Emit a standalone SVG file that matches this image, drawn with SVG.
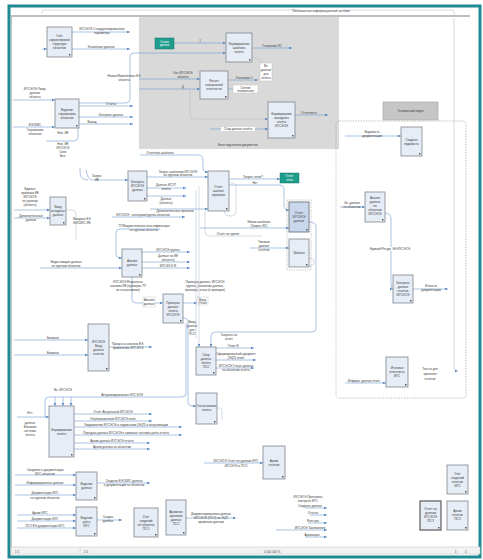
<svg xmlns="http://www.w3.org/2000/svg" width="483" height="560" viewBox="0 0 483 560">
<defs>
<marker id="ar" markerWidth="4" markerHeight="4" refX="3.5" refY="2" orient="auto" markerUnits="userSpaceOnUse"><path d="M0,0.5 L3.5,2 L0,3.5 Z" fill="#5b88c4"/></marker>
<style>
.n{fill:#e7edf6;stroke:#7f858c;stroke-width:0.8}
.nd{fill:#c9d8ec;stroke:#6f757c;stroke-width:0.9}
.tl{fill:#1e9c8c;stroke:#177a6e;stroke-width:0.5}
.t{font-family:"Liberation Sans",Arial,sans-serif;font-size:3px;fill:#3a3a3a;text-anchor:middle}
.tw{font-family:"Liberation Sans",Arial,sans-serif;font-size:2.8px;fill:#ffffff;text-anchor:middle}
.c{fill:none;stroke:#6e9ad0;stroke-width:0.6}
.cg{fill:none;stroke:#a9b7c8;stroke-width:0.5}
.k{fill:#555}
</style>
</defs>
<rect x="0" y="0" width="483" height="560" fill="#ffffff"/>
<!-- frame -->
<rect x="9" y="6" width="471" height="551" fill="#ffffff" stroke="#1f8a91" stroke-width="3"/>
<line x1="11" y1="16" x2="470" y2="16" stroke="#a8a8a8" stroke-width="1.5"/>
<line x1="11.5" y1="16" x2="11.5" y2="547" stroke="#b0b0b0" stroke-width="0.8"/>
<path class="cg" d="M42,14 V12 Q42,10 44,10 H452 Q454,10 454,12 V15"/>
<rect x="300" y="8.5" width="42" height="4" fill="#ffffff"/>
<text class="t" x="321" y="11.5">Пользователи информационной системы</text>
<!-- gray region -->
<rect x="139" y="17" width="200" height="132" fill="#d9d9d9"/>
<text class="t" x="238" y="145.5">Блок подготовки документов</text>
<!-- right dashed region -->
<rect x="336" y="121" width="130" height="277" rx="3" fill="none" stroke="#9a9a9a" stroke-width="0.6" stroke-dasharray="1.5,1.2"/>
<rect x="383" y="102" width="55" height="18" fill="#c6c6c6" stroke="#a0a0a0" stroke-width="0.6"/>
<text class="t" x="410.5" y="112">Технический отдел</text>
<!-- status bar -->
<rect x="11" y="547" width="469" height="7" fill="#f2f2f2" stroke="#c8c8c8" stroke-width="0.6"/>
<line x1="80" y1="548" x2="80" y2="554" stroke="#c8c8c8" stroke-width="0.5"/>
<text class="t" x="17" y="552.5">1:1</text>
<text class="t" x="86" y="552.5">1:1</text>
<text class="t" x="272" y="552.5">1:100 100 %</text>
<text class="t" x="456" y="552.5">1:</text>
<text class="t" x="466" y="552.5">1:</text>

<g id="connectors">
<!-- A -->
<path class="c" d="M72,32 H130" marker-end="url(#ar)"/>
<text class="t" x="102" y="30">ИУСЭОЭ Стандартизированные</text><text class="t" x="102" y="34">параметры</text>
<path class="c" d="M72,49 H130" marker-end="url(#ar)"/>
<text class="t" x="101" y="48">Эталонные данные</text>
<path class="c" d="M42,49 H47" marker-end="url(#ar)"/>
<!-- B -->
<path class="c" d="M13,100 H55" marker-end="url(#ar)"/>
<text class="t" x="35" y="90">ИУСЭОЭ Ожид.</text><text class="t" x="35" y="94">данные</text><text class="t" x="35" y="98">объекта</text>
<path class="c" d="M13,127 H55" marker-end="url(#ar)"/>
<text class="t" x="35" y="126">ЕЭСКИС</text><text class="t" x="35" y="131">Справочник</text><text class="t" x="35" y="135">объектов</text>
<path class="c" d="M79,106 H133" marker-end="url(#ar)"/>
<text class="t" x="111" y="105">Отчёты</text>
<path class="c" d="M79,117 H133" marker-end="url(#ar)"/>
<text class="t" x="111" y="116">Контроль данных</text>
<path class="c" d="M79,124 H133" marker-end="url(#ar)"/>
<text class="t" x="92" y="123">Вывод</text>
<path class="c" d="M79,103 H126 Q130,103 130,99 V57 Q130,53 134,53 H226" marker-end="url(#ar)"/>
<text class="t" x="124" y="77">Новые/Изменённые ЕЭ</text><text class="t" x="124" y="81">объекта</text>
<path class="c" d="M78,128 V137 Q78,141 74,141 H46"/>
<text class="t" x="63" y="134">Нов. ИЕ</text>
<text class="t" x="63" y="145">Нов. ИЕ</text><text class="t" x="63" y="149">ИУСЭОЭ</text><text class="t" x="63" y="153">Связ.</text><text class="t" x="63" y="157">Без.</text>
<!-- gray region -->
<path class="c" d="M174,43 H226" marker-end="url(#ar)"/>
<text class="t" x="200" y="42">1</text>
<path class="c" d="M252,48 H292" marker-end="url(#ar)"/>
<text class="t" x="272" y="47">Уточнение ИС</text>
<path class="cg" d="M252,57 Q258,57 262,63"/>
<rect x="260" y="63" width="12" height="18" fill="#ffffff" stroke="#bbbbbb" stroke-width="0.4"/>
<text class="t" x="266" y="67">Вз.</text><text class="t" x="266" y="71">данные</text><text class="t" x="266" y="75">для</text><text class="t" x="266" y="79">отчёта</text>
<path class="c" d="M139,79 H200" marker-end="url(#ar)"/>
<text class="t" x="183" y="74">Кат. ИУСЭОЭ</text><text class="t" x="183" y="78">объекта</text>
<path class="c" d="M139,89 H200" marker-end="url(#ar)"/>
<text class="t" x="183" y="88">Д</text>
<path class="c" d="M228,80 H258" marker-end="url(#ar)"/>
<text class="t" x="244" y="79">Уточнение 1</text>
<path class="c" d="M228,89 H258" marker-end="url(#ar)"/>
<rect x="233" y="85" width="25" height="8" fill="#ffffff" stroke="#bbbbbb" stroke-width="0.4"/>
<text class="t" x="245.5" y="88.5">Снятие</text><text class="t" x="245.5" y="92">технических</text>
<path class="cg" d="M190,89 V115 Q190,119 194,119 H268" marker-end="url(#ar)"/>
<path class="c" d="M210,129 H268" marker-end="url(#ar)"/>
<rect x="221" y="127" width="34" height="4" fill="#ffffff"/>
<text class="t" x="238" y="130">Сбор данных отчёта</text>
<path class="c" d="M295,115 H328" marker-end="url(#ar)"/>
<text class="t" x="309" y="114">Отчётность</text>
<!-- section 2 -->
<path class="c" d="M140,155 H198 Q203,155 203,160 V168 Q203,172 208,172" marker-end="url(#ar)"/>
<text class="t" x="160" y="154">Отчётные шаблоны</text>
<path class="c" d="M86,170 Q88,180 92,180 H128" marker-end="url(#ar)"/>
<text class="t" x="97" y="177">Запрос</text><text class="t" x="97" y="181">ИЕ</text>
<path class="c" d="M147,177 H208" marker-end="url(#ar)"/>
<text class="t" x="178" y="173">Запрос шаблонов ИУСЭОЭ</text><text class="t" x="178" y="176">по группам объектов</text>
<path class="c" d="M147,188 H186" marker-end="url(#ar)"/>
<text class="t" x="166" y="186">Данные ИСУП</text><text class="t" x="166" y="190">отчёта</text>
<path class="c" d="M147,196 H186" marker-end="url(#ar)"/>
<text class="t" x="166" y="199.5">Данные</text><text class="t" x="166" y="203.5">(объекта)</text>
<path class="c" d="M150,209 H208" marker-end="url(#ar)"/>
<text class="t" x="175" y="212">Дополнительные признаки</text>
<path class="c" d="M229,179 H280" marker-end="url(#ar)"/>
<text class="t" x="253" y="178">Запрос готов?</text>
<path class="c" d="M229,185 H279 Q284,185 284,190 V206 Q284,210 289,210" marker-end="url(#ar)"/>
<text class="t" x="255" y="184">Нет</text>
<path class="cg" d="M224,211 Q224,216 231,216 Q236,216 236,211 V186 Q236,183 231,183"/>
<!-- F -->
<path class="c" d="M14,210 H50" marker-end="url(#ar)"/>
<text class="t" x="30" y="190">Единые</text><text class="t" x="30" y="194">признаки ИЕ</text><text class="t" x="30" y="198">ИУСЭОЭ</text><text class="t" x="30" y="202">по группам</text><text class="t" x="30" y="206">(объекта)</text>
<path class="c" d="M14,218 H50" marker-end="url(#ar)"/>
<text class="t" x="31" y="217">Дополнительные</text><text class="t" x="31" y="221">данные</text>
<path class="cg" d="M66,210 H72 Q76,210 76,214 V240"/>
<text class="t" x="82" y="220">Входные ЕЭ</text><text class="t" x="82" y="224">ЕЭСКИС ИЕ</text>
<path class="c" d="M88,180 Q80,180 80,172 V168"/>
<!-- I, J -->
<path class="c" d="M112,217 H185" marker-end="url(#ar)"/>
<text class="t" x="143" y="216">ИУСЭОЭ - категории/группы объектов</text>
<path class="c" d="M200,228 H289" marker-end="url(#ar)"/>
<text class="t" x="144" y="227">ТП Ведомственные классификаторы</text><text class="t" x="144" y="231">по группам объектов</text>
<path class="c" d="M160,229 H120 Q116,229 116,233 V254 Q116,258 120,258 H122" marker-end="url(#ar)"/>
<text class="t" x="259" y="223">Новые шаблоны</text><text class="t" x="259" y="227">(Запрос ИС)</text>
<path class="c" d="M250,248 H289" marker-end="url(#ar)"/>
<text class="t" x="264" y="243">Типовые</text><text class="t" x="264" y="247">данные</text><text class="t" x="264" y="251">отчётов</text>
<path class="cg" d="M205,211 V232 Q205,236 209,236 H262"/>
<text class="t" x="228" y="235">Отчёт по группе</text>
<path class="c" d="M309,222 Q316,222 316,227 V328 Q316,332 312,332 H215 Q211,332 211,336 V347" marker-end="url(#ar)"/>
<text class="t" x="229" y="336">Запросы на</text><text class="t" x="229" y="340">отчёт</text>
<path class="cg" d="M309,258 Q314,258 314,262 Q314,266 309,266"/>
<!-- K -->
<path class="c" d="M40,268 H122" marker-end="url(#ar)"/>
<text class="t" x="66" y="263">Недостающие данные</text><text class="t" x="66" y="267">по группам объектов</text>
<path class="c" d="M142,252 H190" marker-end="url(#ar)"/>
<text class="t" x="168" y="251">ИУСЭОЭ группы</text>
<path class="c" d="M142,262 H190" marker-end="url(#ar)"/>
<text class="t" x="168" y="257">Данные по ИЕ</text><text class="t" x="168" y="261">(объекта)</text>
<path class="c" d="M142,268 H190" marker-end="url(#ar)"/>
<text class="t" x="168" y="267">ИУСЭОЭ Ж</text>
<path class="c" d="M132,277 V299 Q132,303 136,303 H163" marker-end="url(#ar)"/>
<text class="t" x="128" y="283">ИУСЭОЭ Результаты</text><text class="t" x="128" y="287">анализа ИЕ (проверка ТП</text><text class="t" x="128" y="291">на согласование)</text>
<rect x="143" y="297" width="12" height="10" fill="#ffffff" stroke="#bbbbbb" stroke-width="0.4"/>
<text class="t" x="149" y="301">Анализ</text><text class="t" x="149" y="305">данных</text>
<!-- L, M, N -->
<path class="c" d="M183,303 H197" marker-end="url(#ar)"/>
<rect x="197" y="297" width="11" height="8" fill="#ffffff" stroke="#bbbbbb" stroke-width="0.4"/>
<text class="t" x="202.5" y="300.5">Ввод</text><text class="t" x="202.5" y="304">Отказ</text>
<text class="t" x="205" y="283">Проверку данных, ИУСЭОЭ</text><text class="t" x="205" y="287">группы, уточнение данных,</text><text class="t" x="205" y="291">проверка, отказ (в проверке)</text>
<path class="cg" d="M199,186 V347" marker-end="url(#ar)"/>
<path class="cg" d="M196,190 V338"/>
<text class="t" x="192" y="323">Ввод</text><text class="t" x="192" y="327">данных</text><text class="t" x="192" y="331">для</text><text class="t" x="192" y="335">ПСО</text>
<path class="c" d="M183,318 Q188,318 188,322 V402 Q188,406 192,406 H196" marker-end="url(#ar)"/>
<path class="c" d="M216,348 H254" marker-end="url(#ar)"/>
<text class="t" x="233" y="347">Ответ В</text>
<path class="c" d="M216,360 H256" marker-end="url(#ar)"/>
<text class="t" x="236" y="355">Сформированный документ</text><text class="t" x="236" y="359">(ЭЦП) ответ</text>
<path class="c" d="M216,368 H254" marker-end="url(#ar)"/>
<text class="t" x="236" y="367">ИУСЭОЭ Статус данных</text><text class="t" x="236" y="371">по объектам отчёта</text>
<path class="cg" d="M217,408 H220 Q222,408 222,412 V420"/>
<!-- O -->
<path class="c" d="M14,340 H88" marker-end="url(#ar)"/>
<text class="t" x="53" y="339">Базовые</text>
<path class="c" d="M14,355 H88" marker-end="url(#ar)"/>
<text class="t" x="53" y="354">Базовые</text>
<path class="c" d="M109,347 H152" marker-end="url(#ar)"/>
<text class="t" x="128" y="345">Процессы анализа ЕЭ,</text><text class="t" x="128" y="349">применение ИУСЭОЭ</text>
<!-- P -->
<path class="c" d="M186,323 V393 Q186,397 182,397 H48 Q45,397 45,401 V417 H49" marker-end="url(#ar)"/>
<text class="t" x="63" y="391">Вх. ИУСЭОЭ</text>
<text class="t" x="122" y="396">Актуализированные ИУСЭОЭ</text>
<path class="c" d="M55,397 V406" marker-end="url(#ar)"/>
<path class="c" d="M63,397 V406" marker-end="url(#ar)"/>
<path class="c" d="M71,397 V406" marker-end="url(#ar)"/>
<path class="c" d="M17,417 H45"/>
<text class="t" x="30" y="414">Ист.</text><text class="t" x="30" y="424">данных</text><text class="t" x="30" y="428">Внешние</text><text class="t" x="30" y="432">системы</text><text class="t" x="30" y="436">отчёта</text>
<path class="c" d="M74,414 H152" marker-end="url(#ar)"/>
<text class="t" x="113" y="413">Отчёт Актуальный ИУСЭОЭ</text>
<path class="c" d="M74,421 H152" marker-end="url(#ar)"/>
<text class="t" x="113" y="420">Опубликованный ИУСЭОЭ отчёт</text>
<path class="c" d="M74,427 H182" marker-end="url(#ar)"/>
<text class="t" x="126" y="426">Уведомление ИУСЭОЭ о подписании (ЭЦП) и актуализации</text>
<path class="c" d="M74,435 H182" marker-end="url(#ar)"/>
<text class="t" x="126" y="434">Передача данных ИУСЭОЭ в смежные системы учёта отчёта</text>
<path class="c" d="M74,443 H150" marker-end="url(#ar)"/>
<text class="t" x="112" y="442">Архив данных ИУСЭОЭ отчёта</text>
<path class="c" d="M74,449 H150" marker-end="url(#ar)"/>
<text class="t" x="112" y="448">Архив данных по объектам</text>
<!-- Q, R -->
<path class="c" d="M15,475 H76" marker-end="url(#ar)"/>
<text class="t" x="45" y="471">Сведения о документации</text><text class="t" x="45" y="474.5">ИУС объектов</text>
<path class="c" d="M15,485 H76" marker-end="url(#ar)"/>
<text class="t" x="45" y="484">Информационные данные</text>
<path class="c" d="M15,495 H76" marker-end="url(#ar)"/>
<text class="t" x="45" y="494">Документация ИУС</text><text class="t" x="45" y="499">по группам объектов</text>
<path class="c" d="M97,483 H150" marker-end="url(#ar)"/>
<text class="t" x="124" y="482">Сводные ЕЭСКИС данные</text><text class="t" x="124" y="486">о документации по объектам</text>
<path class="c" d="M17,515 H76" marker-end="url(#ar)"/>
<text class="t" x="40" y="514">Архив ИУС</text>
<path class="c" d="M17,521 H76" marker-end="url(#ar)"/>
<text class="t" x="45" y="520">Документация ИУС</text>
<path class="c" d="M17,528 H76" marker-end="url(#ar)"/>
<text class="t" x="45" y="527">ПСО ЕЭ документация ИУС</text>
<path class="c" d="M97,520 H122" marker-end="url(#ar)"/>
<text class="t" x="108" y="518">Сводка</text><text class="t" x="108" y="522">данных</text>
<!-- T, U -->
<path class="c" d="M186,518 H236" marker-end="url(#ar)"/>
<text class="t" x="211" y="515">Документированные данные</text><text class="t" x="211" y="519">ИУСЭОЭ (ПСО) по ЭЦП</text><text class="t" x="211" y="523">архивным данным</text>
<path class="c" d="M204,463 H263" marker-end="url(#ar)"/>
<text class="t" x="236" y="462">ИУСЭОЭ Отчёт по данным ИУС</text><text class="t" x="236" y="467">ИУСЭОЭ в ПСО</text>
<!-- right bottom list -->
<text class="t" x="308" y="498">ИУСЭОЭ Протоколы</text><text class="t" x="308" y="502">контроля ИУС</text>
<path class="c" d="M305,508 H327" marker-end="url(#ar)"/>
<text class="t" x="310" y="507">Сводные данные</text>
<path class="c" d="M310,515 H327" marker-end="url(#ar)"/>
<text class="t" x="313" y="514">Отчёты</text>
<path class="c" d="M308,523 H327" marker-end="url(#ar)"/>
<text class="t" x="313" y="522">Реестры</text>
<path class="c" d="M276,530 H327" marker-end="url(#ar)"/>
<text class="t" x="310" y="529">ИУСЭОЭ Заключения</text>
<path class="c" d="M305,537 H327" marker-end="url(#ar)"/>
<text class="t" x="312" y="536">Архивация</text>
<!-- right region -->
<path class="c" d="M345,136 H401" marker-end="url(#ar)"/>
<text class="t" x="372" y="133">Ведомость</text><text class="t" x="372" y="137">документации</text>
<path class="c" d="M340,207 H365" marker-end="url(#ar)"/>
<text class="t" x="352" y="204">Эл. данные</text><text class="t" x="352" y="208">по объектам</text>
<path class="c" d="M385,213 Q391,213 391,219 V285 Q391,289 393,289" marker-end="url(#ar)"/>
<rect x="365" y="247" width="50" height="4" fill="#ffffff"/>
<text class="t" x="390" y="250">Единый Ресурс ЭЭ ИУСЭОЭ</text>
<path class="c" d="M413,289 H448" marker-end="url(#ar)"/>
<text class="t" x="431" y="287">Итоги по</text><text class="t" x="431" y="291">документации</text>
<path class="c" d="M345,383 H386" marker-end="url(#ar)"/>
<text class="t" x="364" y="382">Информ. данные отчёт</text>
<text class="t" x="430" y="370">Тексты для</text><text class="t" x="430" y="375">хранения</text><text class="t" x="430" y="380">отчётов</text>
<path class="cg" d="M454,18 V367 Q454,371 458,371" marker-end="url(#ar)"/>
</g>

<g id="nA"><rect class="n" x="47" y="27" width="25" height="30"/><text class="t" x="59.5" y="37">Учёт</text><text class="t" x="59.5" y="41">корректировки</text><text class="t" x="59.5" y="45">структуры</text><text class="t" x="59.5" y="49">объектов</text><rect class="k" x="69" y="54" width="1.5" height="1.5"/></g>
<g id="nB"><rect class="n" x="55" y="99" width="24" height="29"/><text class="t" x="67" y="110.5">Ведение</text><text class="t" x="67" y="114.5">справочника</text><text class="t" x="67" y="118.5">объектов</text><rect class="k" x="76" y="125" width="1.5" height="1.5"/></g>
<g id="nTeal1"><rect class="tl" x="155" y="38" width="19" height="11"/><text class="tw" x="164.5" y="42.5">Схема</text><text class="tw" x="164.5" y="46">данных</text></g>
<g id="nC"><rect class="n" x="226" y="33" width="26" height="29"/><text class="t" x="239" y="44.5">Формирование</text><text class="t" x="239" y="48.5">шаблона</text><text class="t" x="239" y="52.5">отчёта</text><rect class="k" x="249" y="59" width="1.5" height="1.5"/></g>
<g id="nD"><rect class="n" x="200" y="71" width="28" height="28"/><text class="t" x="214" y="82">Расчёт</text><text class="t" x="214" y="86">показателей</text><text class="t" x="214" y="90">отчётности</text><rect class="k" x="225" y="96" width="1.5" height="1.5"/></g>
<g id="nE"><rect class="n" x="268" y="102" width="27" height="36"/><text class="t" x="281.5" y="115">Формирование</text><text class="t" x="281.5" y="119">выходного</text><text class="t" x="281.5" y="123">отчёта</text><text class="t" x="281.5" y="127">ИУСЭОЭ</text><rect class="k" x="292" y="135" width="1.5" height="1.5"/></g>
<g id="nF"><rect class="n" x="50" y="197" width="16" height="28"/><text class="t" x="58" y="208">Ввод</text><text class="t" x="58" y="212">исходных</text><text class="t" x="58" y="216">данных</text><rect class="k" x="63" y="222" width="1.5" height="1.5"/></g>
<g id="nG"><rect class="n" x="128" y="171" width="19" height="30"/><text class="t" x="137.5" y="183">Контроль</text><text class="t" x="137.5" y="187">ИУСЭОЭ</text><text class="t" x="137.5" y="191">данных</text><rect class="k" x="144" y="198" width="1.5" height="1.5"/></g>
<g id="nH"><rect class="n" x="208" y="171" width="21" height="40"/><text class="t" x="218.5" y="188">Отчёт</text><text class="t" x="218.5" y="192">шаблон</text><text class="t" x="218.5" y="196">проверки</text><rect class="k" x="226" y="208" width="1.5" height="1.5"/></g>
<g id="nTeal2"><rect class="tl" x="280" y="173" width="19" height="10"/><text class="tw" x="289.5" y="177">Отчёт</text><text class="tw" x="289.5" y="180.5">готов</text></g>
<g id="nIJgroup"><rect x="287" y="200" width="24" height="70" fill="none" stroke="#8c8c8c" stroke-width="0.5" stroke-dasharray="1.2,1"/></g>
<g id="nI"><rect class="nd" x="289" y="202" width="20" height="30"/><text class="t" x="299" y="214">Отчёт</text><text class="t" x="299" y="218">ИУСЭОЭ</text><text class="t" x="299" y="222">данные</text><rect class="k" x="306" y="229" width="1.5" height="1.5"/></g>
<g id="nJ"><rect class="n" x="289" y="239" width="20" height="28"/><text class="t" x="299" y="254">Шаблон</text><rect class="k" x="306" y="264" width="1.5" height="1.5"/></g>
<g id="nK"><rect class="n" x="122" y="249" width="20" height="28"/><text class="t" x="132" y="262">Анализ</text><text class="t" x="132" y="266">данных</text><rect class="k" x="139" y="274" width="1.5" height="1.5"/></g>
<g id="nL"><rect class="n" x="163" y="294" width="20" height="29"/><text class="t" x="173" y="303.5">Проверка</text><text class="t" x="173" y="307.5">данных</text><text class="t" x="173" y="311.5">отчёта</text><text class="t" x="173" y="315.5">ИУСЭОЭ</text><rect class="k" x="180" y="320" width="1.5" height="1.5"/></g>
<g id="nM"><rect class="n" x="196" y="347" width="20" height="28"/><text class="t" x="206" y="356">Сбор</text><text class="t" x="206" y="360">данных</text><text class="t" x="206" y="364">отчёта</text><text class="t" x="206" y="368">ПСО</text><rect class="k" x="213" y="372" width="1.5" height="1.5"/></g>
<g id="nN"><rect class="n" x="196" y="393" width="21" height="31"/><text class="t" x="206.5" y="407">Согласование</text><text class="t" x="206.5" y="411">отчёта</text><rect class="k" x="214" y="421" width="1.5" height="1.5"/></g>
<g id="nO"><rect class="n" x="88" y="324" width="21" height="47"/><text class="t" x="98.5" y="342.5">ИУСЭОЭ</text><text class="t" x="98.5" y="346.5">Ввод</text><text class="t" x="98.5" y="350.5">данных</text><text class="t" x="98.5" y="354.5">отчётов</text><rect class="k" x="106" y="368" width="1.5" height="1.5"/></g>
<g id="nP"><rect class="n" x="49" y="406" width="25" height="51"/><text class="t" x="61.5" y="430.5">Формирование</text><text class="t" x="61.5" y="434.5">отчёта</text><rect class="k" x="71" y="454" width="1.5" height="1.5"/></g>
<g id="nQ"><rect class="n" x="76" y="472" width="21" height="28"/><text class="t" x="86.5" y="485">Ведение</text><text class="t" x="86.5" y="489">данных</text><rect class="k" x="94" y="497" width="1.5" height="1.5"/></g>
<g id="nR"><rect class="n" x="76" y="507" width="21" height="29"/><text class="t" x="86.5" y="518.5">Ведение</text><text class="t" x="86.5" y="522.5">учёта</text><text class="t" x="86.5" y="526.5">ИУС</text><rect class="k" x="94" y="533" width="1.5" height="1.5"/></g>
<g id="nS"><rect class="n" x="134" y="508" width="24" height="29"/><text class="t" x="146" y="517.5">Учёт</text><text class="t" x="146" y="521.5">сведений</text><text class="t" x="146" y="525.5">об объектах</text><text class="t" x="146" y="529.5">ПСО</text><rect class="k" x="155" y="534" width="1.5" height="1.5"/></g>
<g id="nT"><rect class="n" x="166" y="500" width="20" height="35"/><text class="t" x="176" y="512.5">Архивное</text><text class="t" x="176" y="516.5">хранение</text><text class="t" x="176" y="520.5">данных</text><text class="t" x="176" y="524.5">ПСО</text><rect class="k" x="183" y="532" width="1.5" height="1.5"/></g>
<g id="nU"><rect class="n" x="263" y="446" width="22" height="33"/><text class="t" x="274" y="461.5">Архив</text><text class="t" x="274" y="465.5">отчётов</text><rect class="k" x="282" y="476" width="1.5" height="1.5"/></g>
<g id="nV"><rect class="n" x="447" y="465" width="21" height="29"/><text class="t" x="457.5" y="474.5">Учёт</text><text class="t" x="457.5" y="478.5">сведений</text><text class="t" x="457.5" y="482.5">отчётов</text><text class="t" x="457.5" y="486.5">ИУС</text><rect class="k" x="465" y="491" width="1.5" height="1.5"/></g>
<g id="nW"><rect class="n" x="420" y="501" width="21" height="29" style="stroke:#666;stroke-width:1.3"/><text class="t" x="430.5" y="509.5">Отчёт по</text><text class="t" x="430.5" y="513.5">данным</text><text class="t" x="430.5" y="517.5">ИУСЭОЭ</text><text class="t" x="430.5" y="521.5">ПСО</text><rect class="k" x="438" y="527" width="1.5" height="1.5"/></g>
<g id="nX"><rect class="n" x="447" y="501" width="21" height="29"/><text class="t" x="457.5" y="511.5">Архив</text><text class="t" x="457.5" y="515.5">отчётов</text><text class="t" x="457.5" y="519.5">ПСО</text><rect class="k" x="465" y="527" width="1.5" height="1.5"/></g>
<g id="nY"><rect class="n" x="401" y="127" width="21" height="29"/><text class="t" x="411.5" y="140.5">Сводная</text><text class="t" x="411.5" y="144.5">ведомость</text><rect class="k" x="419" y="153" width="1.5" height="1.5"/></g>
<g id="nZ"><rect class="n" x="365" y="192" width="20" height="30"/><text class="t" x="375" y="199">Анализ</text><text class="t" x="375" y="203">данных</text><text class="t" x="375" y="207">по</text><text class="t" x="375" y="211">объектам</text><text class="t" x="375" y="215">ИУСЭОЭ</text><rect class="k" x="382" y="219" width="1.5" height="1.5"/></g>
<g id="nAA"><rect class="n" x="393" y="275" width="20" height="28"/><text class="t" x="403" y="284">Контроль</text><text class="t" x="403" y="288">данных</text><text class="t" x="403" y="292">отчётов</text><text class="t" x="403" y="296">ИУСЭОЭ</text><rect class="k" x="410" y="300" width="1.5" height="1.5"/></g>
<g id="nAB"><rect class="n" x="386" y="357" width="22" height="30"/><text class="t" x="397" y="369">Итоговая</text><text class="t" x="397" y="373">отчётность</text><text class="t" x="397" y="377">ИУС</text><rect class="k" x="405" y="384" width="1.5" height="1.5"/></g>
</svg>
